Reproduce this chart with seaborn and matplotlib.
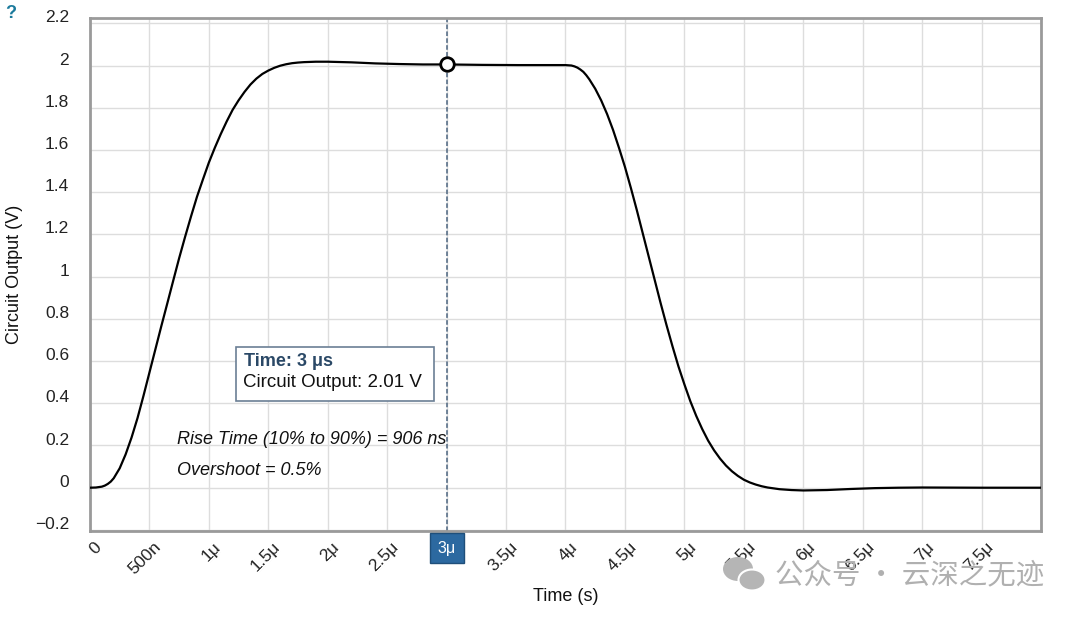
import numpy as np
import pandas as pd
import seaborn as sns
import matplotlib.pyplot as plt
import matplotlib.transforms as mtransforms
from matplotlib.patches import Rectangle, Ellipse

# === dados (tempo em microssegundos, saída em volts) ===
tempo_us = [
    0.00, 0.05, 0.10, 0.125, 0.15, 0.175, 0.20, 0.25, 0.30, 0.35,
    0.40, 0.45, 0.50, 0.55, 0.60, 0.65, 0.70, 0.75, 0.80, 0.85,
    0.90, 0.95, 1.00, 1.05, 1.10, 1.15, 1.20, 1.25, 1.30, 1.35,
    1.40, 1.45, 1.50, 1.55, 1.60, 1.65, 1.70, 1.75, 1.80, 1.90,
    2.00, 2.20, 2.40, 2.60, 2.80, 3.00, 3.30, 3.60, 3.90, 4.00,
    4.05, 4.075, 4.10, 4.125, 4.15, 4.175, 4.20, 4.25, 4.30, 4.35,
    4.40, 4.45, 4.50, 4.55, 4.60, 4.65, 4.70, 4.75, 4.80, 4.85,
    4.90, 4.95, 5.00, 5.05, 5.10, 5.15, 5.20, 5.25, 5.30, 5.35,
    5.40, 5.45, 5.50, 5.55, 5.60, 5.65, 5.70, 5.80, 5.90, 6.00,
    6.20, 6.40, 6.60, 6.80, 7.00, 7.50, 8.00,
]
saida_v = [
    0.000, 0.001, 0.005, 0.010, 0.018, 0.029, 0.045, 0.092, 0.158, 0.238,
    0.330, 0.435, 0.545, 0.655, 0.765, 0.872, 0.980, 1.087, 1.188, 1.285,
    1.378, 1.460, 1.540, 1.610, 1.675, 1.735, 1.790, 1.835, 1.875, 1.910,
    1.938, 1.960, 1.976, 1.989, 1.999, 2.006, 2.011, 2.014, 2.016, 2.018,
    2.018, 2.015, 2.010, 2.007, 2.005, 2.005, 2.003, 2.002, 2.002, 2.002,
    2.000, 1.996, 1.990, 1.981, 1.970, 1.954, 1.935, 1.890, 1.835, 1.770,
    1.695, 1.610, 1.520, 1.420, 1.315, 1.205, 1.095, 0.985, 0.875, 0.770,
    0.670, 0.575, 0.490, 0.410, 0.340, 0.278, 0.223, 0.177, 0.138, 0.105,
    0.078, 0.056, 0.038, 0.025, 0.015, 0.007, 0.001, -0.007, -0.011, -0.013,
    -0.011, -0.006, -0.002, 0.000, 0.001, 0.000, 0.000,
]

cursor_t = 3.0
cursor_v = 2.005

x_ticks = [0, 0.5, 1, 1.5, 2, 2.5, 3, 3.5, 4, 4.5, 5, 5.5, 6, 6.5, 7, 7.5, 8]
x_labels = ["0", "500n", "1μ", "1.5μ", "2μ", "2.5μ", "", "3.5μ", "4μ",
            "4.5μ", "5μ", "5.5μ", "6μ", "6.5μ", "7μ", "7.5μ", ""]
y_ticks = [-0.2, 0, 0.2, 0.4, 0.6, 0.8, 1, 1.2, 1.4, 1.6, 1.8, 2, 2.2]
y_labels = ["\u22120.2", "0", "0.2", "0.4", "0.6", "0.8", "1", "1.2",
            "1.4", "1.6", "1.8", "2", "2.2"]

df = pd.DataFrame({"tempo": tempo_us, "saida": saida_v})

# === estilo ===
sns.set_theme(style="whitegrid")
plt.rcParams["font.family"] = ["Liberation Sans", "DejaVu Sans"]

fig = plt.figure(figsize=(10.8, 6.17), dpi=100)
ax = fig.add_axes([0.0833, 0.1394, 0.8806, 0.8314])

sns.lineplot(data=df, x="tempo", y="saida", color="black", linewidth=1.6,
             ax=ax, zorder=3)

ax.set_xlim(0, 8)
ax.set_ylim(-0.205, 2.225)
ax.set_xticks(x_ticks)
ax.set_xticklabels(x_labels, rotation=45, ha="right", rotation_mode="anchor",
                   fontsize=12.5)
ax.set_yticks(y_ticks)
ax.set_yticklabels(y_labels, fontsize=12.5)
ax.tick_params(axis="x", length=0, pad=6, colors="#222222")
ax.tick_params(axis="y", length=0, pad=15, colors="#222222")

# rótulos do eixo y ficam um pouco acima da linha de grade
desloc_y = mtransforms.ScaledTranslation(0, 5 / 72, fig.dpi_scale_trans)
for lab in ax.get_yticklabels():
    lab.set_transform(lab.get_transform() + desloc_y)
desloc_x = mtransforms.ScaledTranslation(4 / 100, 0, fig.dpi_scale_trans)
for lab in ax.get_xticklabels():
    lab.set_transform(lab.get_transform() + desloc_x)

ax.grid(True, color="#dddddd", linewidth=1)
for s in ax.spines.values():
    s.set_color("#9a9a9a")
    s.set_linewidth(2)

ax.set_xlabel("Time (s)", fontsize=13, color="#111111")
ax.set_ylabel("Circuit Output (V)", fontsize=13, color="#111111")
ax.yaxis.set_label_coords(-0.0705, 0.5)
ax.xaxis.set_label_coords(0.5, -0.112)

# === cursor em 3 µs ===
ax.axvline(cursor_t, color="#4d6580", linestyle=(0, (3, 1.5)), linewidth=1.1,
           zorder=2)
ax.scatter([cursor_t], [cursor_v], s=95, facecolor="white", edgecolor="black",
           linewidth=2, zorder=5)

# caixa de dica
ax.add_patch(Rectangle((0.1535, 0.2534), 0.2082, 0.1053, transform=ax.transAxes,
                       facecolor="white", edgecolor="#6b7f95", linewidth=1.2,
                       zorder=6))
ax.text(0.162, 0.322, "Time: 3 μs", transform=ax.transAxes, fontsize=13,
        fontweight="bold", color="#2a4866", va="baseline", zorder=7)
ax.text(0.161, 0.280, "Circuit Output: 2.01 V", transform=ax.transAxes,
        fontsize=13.5, color="#111111", va="baseline", zorder=7)

# anotações
ax.text(0.0915, 0.170, "Rise Time (10% to 90%) = 906 ns", transform=ax.transAxes,
        fontsize=13, style="italic", color="#111111", va="baseline", zorder=7)
ax.text(0.0915, 0.110, "Overshoot = 0.5%", transform=ax.transAxes,
        fontsize=13, style="italic", color="#111111", va="baseline", zorder=7)

# rótulo destacado do cursor no eixo x
fig.text(447 / 1080, 1 - 548 / 617, "3μ", ha="center", va="center",
         fontsize=11.5, color="white",
         bbox=dict(boxstyle="square,pad=0.5", facecolor="#2c69a0",
                   edgecolor="#1f4f7a", linewidth=1))

# "?" no canto
fig.text(11 / 1080, 1 - 13 / 617, "?", ha="center", va="center", fontsize=13,
         fontweight="bold", color="#1b7a9c")

# marca d'água
fig.patches.append(Ellipse((738 / 1080, 1 - 569 / 617), 30 / 1080, 24 / 617,
                           transform=fig.transFigure, facecolor="#b5b5b5",
                           edgecolor="none", zorder=8))
fig.patches.append(Ellipse((752 / 1080, 1 - 580 / 617), 27 / 1080, 21 / 617,
                           transform=fig.transFigure, facecolor="#b5b5b5",
                           edgecolor="white", linewidth=1.5, zorder=9))
fig.text(775 / 1080, 1 - 575 / 617, "公众号 · 云深之无迹", ha="left", va="center",
         fontsize=20.5, color="#b0b0b0",
         family=["Noto Sans CJK SC", "DejaVu Sans"], zorder=10)

fig.savefig("out.png", dpi=100)
